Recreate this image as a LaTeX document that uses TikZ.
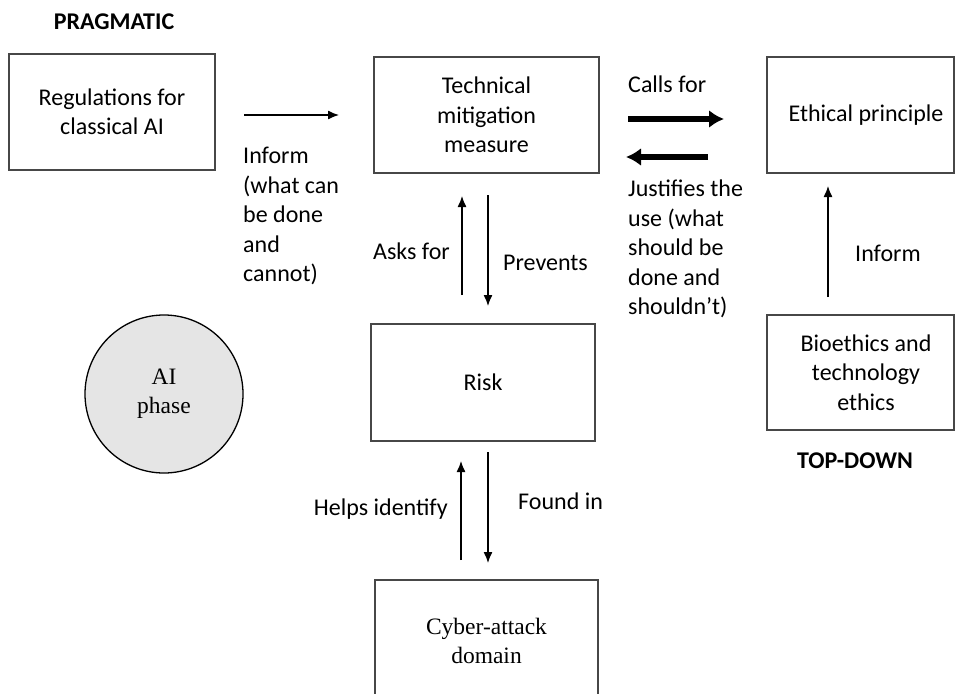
\documentclass[tikz,border=0pt]{standalone}
\usepackage{fontspec}
\setmainfont{Carlito}
\newfontfamily\serifface{Liberation Serif}
\usetikzlibrary{arrows.meta}
\begin{document}
\begin{tikzpicture}[x=1pt,y=-1pt,
  every node/.style={font=\fontsize{24}{29.5}\selectfont, inner sep=0pt},
  box/.style={draw=black!72, line width=1.5pt, rectangle, align=center},
  lbl/.style={align=left},
  thin/.style={line width=1.3pt, -{Latex[length=11pt,width=9pt]}},
  thick/.style={line width=6pt, -{Latex[length=15pt,width=18pt]}}]
\clip (0,0) rectangle (955,693);
\fill[white] (0,0) rectangle (955,693);

% titles
\node[font=\fontsize{24}{29.5}\selectfont\bfseries] (prag) at (114,22) {PRAGMATIC};
\node[font=\fontsize{24}{29.5}\selectfont\bfseries] (topdown) at (855,461) {TOP-DOWN};

% boxes
\node[box, minimum width=206pt, minimum height=116pt] (reg) at (112,112) {Regulations for\\classical AI};
\node[box, minimum width=225pt, minimum height=116pt] (tech) at (486.5,115) {Technical\\mitigation\\measure};
\node[box, minimum width=187pt, minimum height=116pt] (eth) at (860.5,115) {\hspace*{11pt}Ethical principle};
\node[box, minimum width=187pt, minimum height=115pt] (bio) at (860.5,372.5) {\hspace*{11pt}Bioethics and\\\hspace*{11pt}technology\\\hspace*{11pt}ethics};
\node[box, minimum width=224pt, minimum height=117pt] (risk) at (483,382.5) {Risk};
\node[box, minimum width=223pt, minimum height=122pt, font=\fontsize{23.5}{28.5}\selectfont\serifface] (cyber) at (486.5,641) {Cyber-attack\\domain};
\node[draw=black, line width=1.3pt, circle, fill=black!10, minimum size=158pt, align=center, font=\fontsize{23.5}{29}\selectfont\serifface] (ai) at (164,394) {AI\\phase};

% arrow end points
\coordinate (r1) at (244,115);  \coordinate (r2) at (339,115);
\coordinate (c1) at (628,119);  \coordinate (c2) at (724,119);
\coordinate (j1) at (708,157);  \coordinate (j2) at (626,157);
\coordinate (i1) at (828,297);  \coordinate (i2) at (828,186);
\coordinate (a1) at (462,295);  \coordinate (a2) at (462,196);
\coordinate (p1) at (488,195);  \coordinate (p2) at (488,306);
\coordinate (h1) at (461,560);  \coordinate (h2) at (461,461);
\coordinate (f1) at (488,452);  \coordinate (f2) at (488,563);

\draw[thin] (r1) -- (r2);
\draw[thick] (c1) -- (c2);
\draw[thick] (j1) -- (j2);
\draw[thin] (i1) -- (i2);
\draw[thin] (a1) -- (a2);
\draw[thin] (p1) -- (p2);
\draw[thin] (h1) -- (h2);
\draw[thin] (f1) -- (f2);

% labels
\node[lbl, anchor=west] (linform) at (243,216) {Inform\\(what can\\be done\\and\\cannot)};
\node[anchor=west] (lcalls) at (628,84) {Calls for};
\node[lbl, anchor=west] (ljust) at (628,249) {Justifies the\\use (what\\should be\\done and\\shouldn’t)};
\node[anchor=west] (linform2) at (855,253) {Inform};
\node[anchor=east] (lasks) at (450,251) {Asks for};
\node[anchor=west] (lprev) at (503,263) {Prevents};
\node[anchor=east] (lhelps) at (448,509) {Helps identify};
\node[anchor=west] (lfound) at (518,501) {Found in};
\end{tikzpicture}
\end{document}
